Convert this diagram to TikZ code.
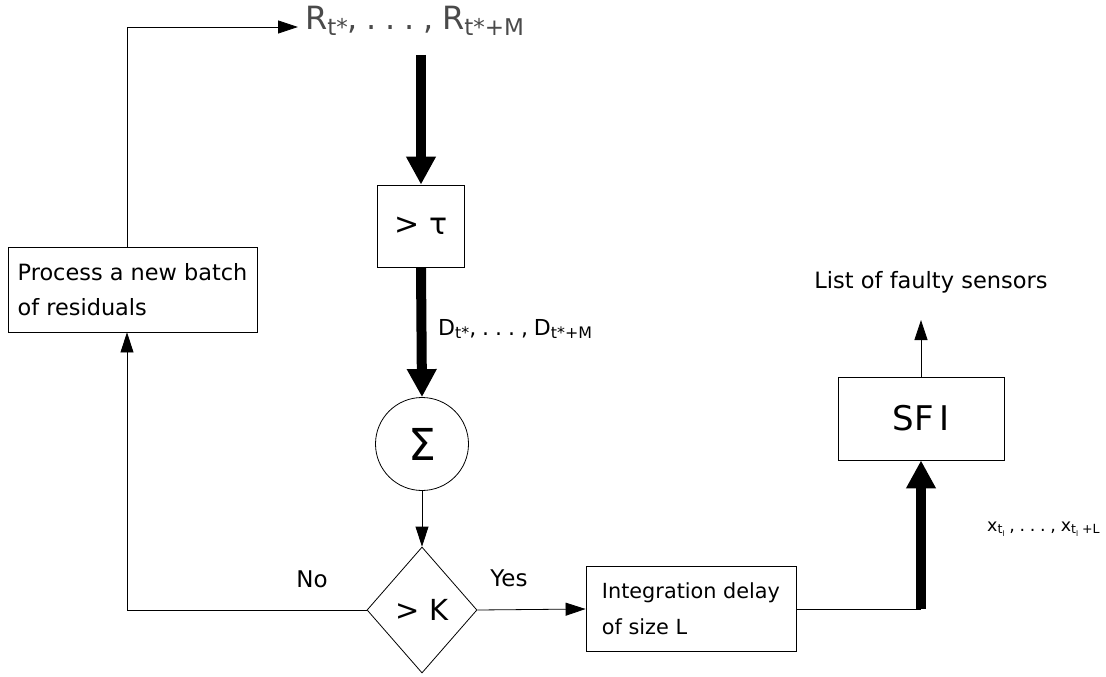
\documentclass[tikz,border=0pt]{standalone}
\usepackage{fontspec}
\usepackage{graphicx}
\setmainfont{DejaVu Sans}
\usetikzlibrary{shapes.geometric,arrows.meta}
\definecolor{rgray}{HTML}{4A4A4A}
\newcommand\sbx[1]{\raisebox{-0.16em}{\scalebox{0.72}{#1}}}
\newcommand\ssbx[1]{\raisebox{-0.22em}{\scalebox{0.6}{#1}}}
\newcommand\gp{\hspace{0.27em}}
\tikzset{
 box/.style={draw, line width=0.8pt, inner sep=0pt},
 txtbox/.style={box, minimum height=85pt, align=left},
 thinarrow/.style={line width=0.8pt, -{Triangle[length=20pt,width=13pt]}},
 thickarrow/.style={line width=10pt, -{Triangle[length=28pt,width=28pt]}},
 thinline/.style={line width=0.8pt},
 lbl/.style={inner sep=0pt},
}
\begin{document}
\begin{tikzpicture}[x=1pt,y=-1pt]
\useasboundingbox (0,0) rectangle (1106,677);
% nodes
\node[lbl, anchor=base west, text=rgray, font=\fontsize{32}{36}\selectfont] (R) at (305,30) {R\sbx{t*},\gp.\gp.\gp.\gp,\gp R\sbx{t*+M}};
\node[box, minimum width=87pt, minimum height=82pt, font=\fontsize{30}{36}\selectfont] (tau) at (421,226) {> τ};
\node[lbl, anchor=base west, font=\fontsize{22}{24}\selectfont] (D) at (438,335) {D\sbx{t*},\gp.\gp.\gp.\gp,\gp D\sbx{t*+M}};
\node[circle, draw, line width=0.8pt, minimum size=93pt, inner sep=0pt, font=\fontsize{44}{48}\selectfont] (sig) at (422,444) {Σ};
\node[diamond, draw, line width=0.8pt, minimum width=110pt, minimum height=126pt, inner sep=0pt, font=\fontsize{29}{32}\selectfont] (K) at (422,610) {> K};
\node[lbl, anchor=base, font=\fontsize{23}{24}\selectfont] (yes) at (509,586) {Yes};
\node[lbl, anchor=base, font=\fontsize{23}{24}\selectfont] (no) at (312,587) {No};
\node[txtbox, minimum width=210pt, font=\fontsize{20.8}{36}\selectfont] (integ) at (691,609) {Integration delay\\of size L};
\node[txtbox, minimum width=249pt, font=\fontsize{22.4}{35}\selectfont] (proc) at (132.5,289.5) {Process a new batch\\of residuals};
\node[box, minimum width=166pt, minimum height=83pt, font=\fontsize{34}{36}\selectfont] (sfi) at (921,418.5) {SF\,I};
\node[lbl, anchor=base, font=\fontsize{22.5}{24}\selectfont] (list) at (931,288) {List of faulty sensors};
\node[lbl, anchor=base west, font=\fontsize{17.5}{20}\selectfont] (xl) at (987,531) {x\sbx{t\ssbx{l}}\gp,\gp.\gp.\gp.\gp,\gp x\sbx{t\ssbx{l} +L}};
% coordinates
\coordinate (c1) at (127,27);
\coordinate (rb) at (421,55);
\coordinate (xc) at (921,609);
\coordinate (lt) at (921,320);
% connectors
\draw[thinarrow] (proc.north -| c1) |- ([xshift=-7pt]R.west |- c1);
\draw[thickarrow] (rb) -- (tau.north);
\draw[thickarrow] (tau.south) -- (sig.north);
\draw[thinarrow] (sig.south) -- (K.north);
\draw[thinarrow] (K.east) -- (integ.west);
\draw[thinarrow] (K.west) -| (proc.south -| c1);
\draw[thinline] (integ.east) -- (xc);
\draw[thickarrow] (xc) -- (sfi.south);
\draw[thinarrow] (sfi.north) -- (lt);
\end{tikzpicture}
\end{document}
